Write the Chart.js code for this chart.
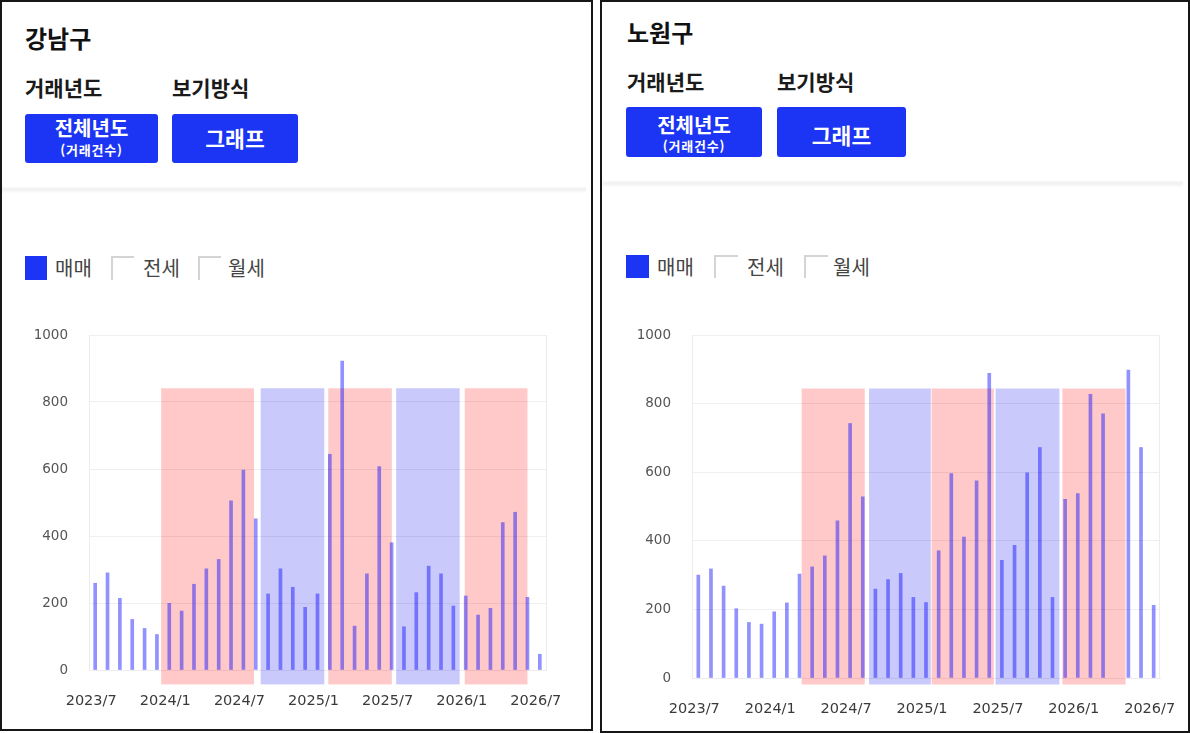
<!DOCTYPE html>
<html lang="ko">
<head>
<meta charset="utf-8">
<script src="https://cdn.jsdelivr.net/npm/chart.js@4.4.1/dist/chart.umd.min.js"></script>
<style>
  html, body { margin: 0; padding: 0; background: #fff; }
  body { width: 1190px; height: 733px; position: relative; overflow: hidden;
         font-family: "Noto Sans CJK KR", "Noto Sans", sans-serif; }
  .abs { position: absolute; white-space: nowrap; }
  .panel { position: absolute; top: 0; border: 2px solid #161616; box-sizing: border-box; }
  .title { font-weight: 700; font-size: 24px; line-height: 24px; color: #111; }
  .label { font-weight: 700; font-size: 21px; line-height: 21px; color: #1a1a1a; }
  .btn { background: #1c34f4; border-radius: 3px; color: #fff; font-weight: 700; text-align: center; }
  .btn .t { position: absolute; left: 0; right: 0; }
  .btn .small { font-size: 13px; line-height: 16px; letter-spacing: 0.8px; }
  .sep { height: 6px; background: linear-gradient(#fbfbfb, #f0f0f0, #f6f6f6, #fdfdfd); }
  .box { box-sizing: border-box; }
  .box.on { background: #1c34f4; }
  .box.off { border-left: 2px solid #d4d4d4; border-top: 2px solid #d4d4d4; background: #fff; }
  .lg { font-size: 20px; line-height: 20px; color: #444; }
  .wrap { position: absolute; }
</style>
</head>
<body>

<!-- 강남구 -->
<div class="panel" style="left:0;width:593px;height:731px;"></div>
<div class="abs title" style="left:25px;top:26px;">강남구</div>
<div class="abs label" style="left:25px;top:77px;">거래년도</div>
<div class="abs label" style="left:172px;top:77px;">보기방식</div>
<div class="abs btn" style="left:25px;top:114px;width:133px;height:49px;">
  <div class="t" style="top:3px;font-size:20px;line-height:22px;">전체년도</div>
  <div class="t small" style="top:28px;">(거래건수)</div>
</div>
<div class="abs btn" style="left:172px;top:114px;width:126px;height:49px;">
  <div class="t" style="top:12px;font-size:21.5px;line-height:24px;">그래프</div>
</div>
<div class="abs sep" style="left:2px;top:187px;width:584px;"></div>
<div class="abs box on" style="left:25px;top:256px;width:22px;height:24px;"></div>
<div class="abs lg" style="left:55px;top:258px;">매매</div>
<div class="abs box off" style="left:111px;top:256px;width:23px;height:24px;"></div>
<div class="abs lg" style="left:143px;top:258px;">전세</div>
<div class="abs box off" style="left:198px;top:256px;width:23px;height:24px;"></div>
<div class="abs lg" style="left:228px;top:258px;">월세</div>
<div class="wrap" style="left:20px;top:320px;width:550px;height:400px;"><canvas id="gangnam"></canvas></div>

<!-- 노원구 -->
<div class="panel" style="left:600px;width:590px;height:733px;"></div>
<div class="abs title" style="left:627px;top:20px;">노원구</div>
<div class="abs label" style="left:627px;top:71px;">거래년도</div>
<div class="abs label" style="left:777px;top:71px;">보기방식</div>
<div class="abs btn" style="left:626px;top:107px;width:136px;height:50px;">
  <div class="t" style="top:7px;font-size:20px;line-height:22px;">전체년도</div>
  <div class="t small" style="top:31px;">(거래건수)</div>
</div>
<div class="abs btn" style="left:777px;top:107px;width:129px;height:50px;">
  <div class="t" style="top:16px;font-size:21.5px;line-height:24px;">그래프</div>
</div>
<div class="abs sep" style="left:603px;top:181px;width:580px;"></div>
<div class="abs box on" style="left:626px;top:255px;width:23px;height:23px;"></div>
<div class="abs lg" style="left:657px;top:257px;">매매</div>
<div class="abs box off" style="left:714px;top:255px;width:24px;height:23px;"></div>
<div class="abs lg" style="left:747px;top:257px;">전세</div>
<div class="abs box off" style="left:804px;top:255px;width:24px;height:23px;"></div>
<div class="abs lg" style="left:833px;top:257px;">월세</div>
<div class="wrap" style="left:620px;top:320px;width:565px;height:408px;"><canvas id="nowon"></canvas></div>

<script>
// months shown on the x axis (every 6th gets a label)
const months = [
  '2023/7','2023/8','2023/9','2023/10','2023/11','2023/12',
  '2024/1','2024/2','2024/3','2024/4','2024/5','2024/6',
  '2024/7','2024/8','2024/9','2024/10','2024/11','2024/12',
  '2025/1','2025/2','2025/3','2025/4','2025/5','2025/6',
  '2025/7','2025/8','2025/9','2025/10','2025/11','2025/12',
  '2026/1','2026/2','2026/3','2026/4','2026/5','2026/6',
  '2026/7'
];
const yTicks = [0, 200, 400, 600, 800, 1000];

// 매매 거래건수
const gangnamSales = [259, 290, 214, 151, 124, 106, 199, 176, 256, 302, 330, 505,
  597, 451, 227, 302, 247, 187, 227, 644, 922, 131, 287, 607,
  380, 129, 231, 310, 287, 191, 221, 164, 184, 440, 471, 217, 47];
const nowonSales = [300, 318, 268, 202, 162, 157, 193, 219, 303, 324, 356, 458,
  742, 528, 259, 287, 305, 235, 220, 371, 596, 411, 575, 888,
  343, 387, 598, 672, 235, 521, 538, 827, 770, null, 898, 672, 212];

// shaded periods, in month-index units (red = 상승, blue = 하락)
const bandKind = ['red', 'blue', 'red', 'blue', 'red'];
const gangnamBandFrom = [5.34, 13.4, 18.87, 24.37, 29.92];
const gangnamBandTo   = [12.86, 18.55, 24.02, 29.51, 35.0];
const gangnamBandY    = [-43, 841];
const nowonBandFrom = [8.17, 13.5, 18.44, 23.5, 28.78];
const nowonBandTo   = [13.16, 18.38, 23.36, 28.55, 33.78];
const nowonBandY    = [-19, 844];

const bandColors = { red: 'rgba(255, 0, 0, 0.21)', blue: 'rgba(10, 10, 235, 0.22)' };

const bandPlugin = {
  id: 'bands',
  beforeDatasetsDraw(chart, args, opts) {
    const { ctx, scales: { x, y } } = chart;
    const top = y.getPixelForValue(opts.y[1]);
    const bottom = y.getPixelForValue(opts.y[0]);
    ctx.save();
    opts.from.forEach((f, i) => {
      const x0 = x.getPixelForValue(f);
      const x1 = x.getPixelForValue(opts.to[i]);
      ctx.fillStyle = bandColors[opts.kind[i]];
      ctx.fillRect(x0, top, x1 - x0, bottom - top);
    });
    ctx.restore();
  }
};

const xFont = { family: "'DejaVu Sans', sans-serif", size: 14.5 };
const yFont = { family: "'DejaVu Sans', sans-serif", size: 13.5 };

function makeChart(id, values, from, to, bandY, box) {
  return new Chart(document.getElementById(id), {
    type: 'bar',
    data: {
      labels: months,
      datasets: [{
        label: '매매',
        data: values,
        backgroundColor: 'rgba(0, 0, 255, 0.43)',
        barThickness: 3,
        borderWidth: 0
      }]
    },
    options: {
      responsive: true,
      maintainAspectRatio: false,
      animation: false,
      layout: { padding: { top: box.top, right: box.right, left: 0, bottom: 0 } },
      plugins: {
        legend: { display: false },
        tooltip: { enabled: false },
        bands: { from, to, y: bandY, kind: bandKind }
      },
      scales: {
        x: {
          grid: {
            drawTicks: false,
            color: c => (c.index === 0 || c.index === undefined) ? '#ececec' : 'rgba(0,0,0,0)'
          },
          border: { color: '#ececec' },
          ticks: {
            autoSkip: false,
            maxRotation: 0,
            padding: 23,
            labelOffset: -4,
            color: '#3a3a3a',
            font: xFont,
            callback: (v, i) => i % 6 === 0 ? months[i] : ''
          },
          afterFit: s => { s.height = box.xh; s.paddingLeft = 0; s.paddingRight = 0; }
        },
        y: {
          min: 0,
          max: 1000,
          afterBuildTicks: s => { s.ticks = yTicks.map(v => ({ value: v })); },
          grid: { drawTicks: false, color: '#efefef' },
          border: { color: '#ececec' },
          ticks: { padding: 21, color: '#555', font: yFont, callback: v => String(v) },
          afterFit: s => { s.width = box.yw; s.paddingTop = 0; s.paddingBottom = 0; }
        }
      }
    },
    plugins: [bandPlugin]
  });
}

makeChart('gangnam', gangnamSales, gangnamBandFrom, gangnamBandTo, gangnamBandY,
  { top: 15, right: 24, yw: 69, xh: 50 });
makeChart('nowon', nowonSales, nowonBandFrom, nowonBandTo, nowonBandY,
  { top: 15, right: 25, yw: 72, xh: 50 });
</script>
</body>
</html>
